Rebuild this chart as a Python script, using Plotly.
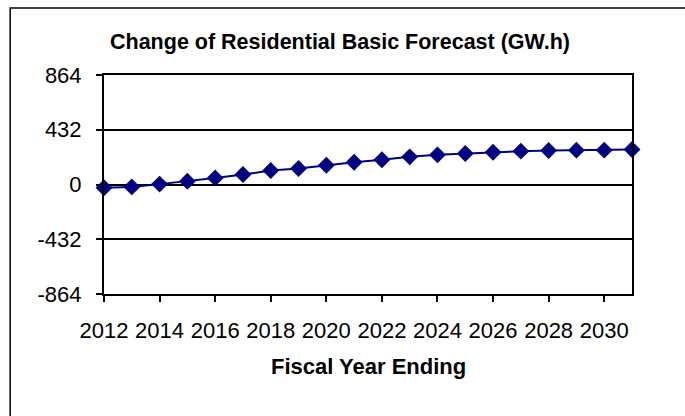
import plotly.graph_objects as go

years = list(range(2012, 2032))
change_gwh = [-26, -19, 3, 26, 52, 79, 110, 126, 152, 175,
              195, 218, 234, 245, 255, 263, 268, 271, 271, 276]
y_ticks = [-864, -432, 0, 432, 864]
x_ticks = list(range(2012, 2031, 2))

W, H = 685, 416
L, R, T, B = 103.5, 52.5, 75, 122
pw, ph = W - L - R, H - T - B


def px_x(x):
    return (x - L) / pw


def px_y(y):
    return (H - B - y) / ph


fig = go.Figure()
fig.add_trace(go.Scatter(
    x=years, y=change_gwh, mode="lines+markers",
    line=dict(color="#000080", width=2),
    marker=dict(symbol="diamond", size=13, color="#000080"),
    cliponaxis=False, showlegend=False,
))

font_family = "Liberation Sans, Arial, sans-serif"
axis_font = dict(family=font_family, size=22, color="black")

fig.update_layout(
    width=W, height=H, autosize=False,
    margin=dict(l=L, r=R, t=T, b=B),
    paper_bgcolor="white", plot_bgcolor="white",
    xaxis=dict(
        range=[2012, 2031], tickvals=x_ticks, ticktext=[str(v) for v in x_ticks],
        showgrid=False, zeroline=False,
        showline=True, linecolor="black", linewidth=2, mirror=True,
        ticks="outside", ticklen=6, tickwidth=1.5, tickcolor="black",
        tickfont=axis_font, ticklabelstandoff=10,
    ),
    yaxis=dict(
        range=[-864, 864], tickvals=y_ticks, ticktext=[str(v) for v in y_ticks],
        showgrid=True, gridcolor="black", gridwidth=2,
        zeroline=True, zerolinecolor="black", zerolinewidth=2,
        showline=True, linecolor="black", linewidth=2, mirror=True,
        ticks="outside", ticklen=6, tickwidth=1.5, tickcolor="black",
        tickfont=axis_font, ticklabelstandoff=10,
    ),
    shapes=[dict(
        type="rect", xref="paper", yref="paper",
        x0=px_x(9.5), x1=px_x(W + 5), y0=px_y(H + 5), y1=px_y(8),
        line=dict(color="black", width=1.5), fillcolor="rgba(0,0,0,0)",
        layer="below",
    )],
    annotations=[
        dict(text="<b>Change of Residential Basic Forecast (GW.h)</b>",
             xref="paper", yref="paper", x=px_x(340), y=px_y(42),
             xanchor="center", yanchor="middle", showarrow=False,
             font=dict(family=font_family, size=21.5, color="black")),
        dict(text="<b>Fiscal Year Ending</b>",
             xref="paper", yref="paper", x=px_x(368), y=px_y(366),
             xanchor="center", yanchor="middle", showarrow=False,
             font=dict(family=font_family, size=22, color="black")),
    ],
)

fig.write_html("out.html", config={"displayModeBar": False},
               post_script="document.body.style.margin='0';")
